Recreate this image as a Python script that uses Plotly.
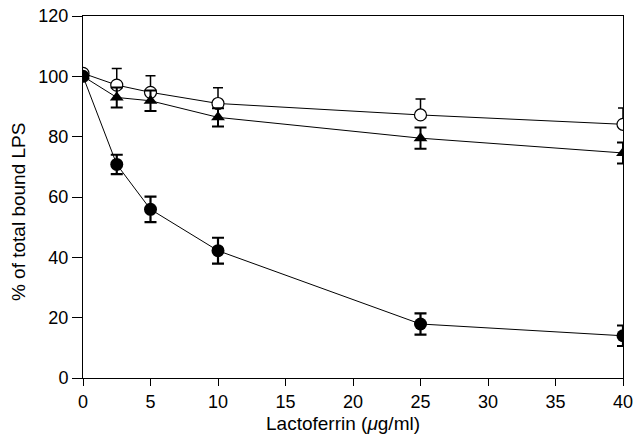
import plotly.graph_objects as go

x_vals = [0, 2.5, 5, 10, 25, 40]

open_circle = [101, 97.1, 94.7, 91.0, 87.2, 84.1]
open_circle_err = [0, 5.5, 5.5, 5.2, 5.3, 5.4]

triangle = [100, 93.0, 91.9, 86.4, 79.5, 74.6]
triangle_err = [0, 3.3, 3.4, 3.0, 3.5, 3.5]

filled_circle = [100, 70.8, 55.9, 42.2, 17.9, 14.0]
filled_circle_err = [0, 3.2, 4.2, 4.3, 3.5, 3.4]

x_ticks = [0, 5, 10, 15, 20, 25, 30, 35, 40]
y_ticks = [0, 20, 40, 60, 80, 100, 120]

x_title = "Lactoferrin (<i>μ</i>g/ml)"
y_title = "% of total bound LPS"

FONT = "Liberation Sans, Arial, sans-serif"

fig = go.Figure()

fig.add_trace(go.Scatter(
    x=x_vals, y=open_circle, mode="lines+markers",
    line=dict(color="black", width=1),
    marker=dict(symbol="circle", size=12, color="white", line=dict(color="black", width=1.2)),
    error_y=dict(type="data", array=open_circle_err, arrayminus=[0]*6, symmetric=False,
                 color="black", thickness=1.5, width=5),
    showlegend=False,
))

fig.add_trace(go.Scatter(
    x=x_vals, y=triangle, mode="lines+markers",
    line=dict(color="black", width=1),
    marker=dict(symbol="triangle-up", size=12, color="black"),
    error_y=dict(type="data", array=triangle_err, color="black", thickness=2, width=6),
    showlegend=False,
))

fig.add_trace(go.Scatter(
    x=x_vals, y=filled_circle, mode="lines+markers",
    line=dict(color="black", width=1),
    marker=dict(symbol="circle", size=13, color="black"),
    error_y=dict(type="data", array=filled_circle_err, color="black", thickness=2.2, width=6),
    showlegend=False,
))

fig.update_layout(
    width=634, height=436,
    margin=dict(l=83, r=11, t=16, b=58),
    paper_bgcolor="white", plot_bgcolor="white",
    font=dict(family=FONT, size=18, color="black"),
    xaxis=dict(
        range=[0, 40], tickvals=x_ticks, ticks="outside", ticklen=7, tickwidth=1,
        tickcolor="black", showline=True, linecolor="black", linewidth=1, mirror=True,
        showgrid=False, zeroline=False, tickfont=dict(size=18), automargin=False,
    ),
    yaxis=dict(
        range=[0, 120], tickvals=y_ticks, ticks="outside", ticklen=10, tickwidth=1,
        tickcolor="black", showline=True, linecolor="black", linewidth=1, mirror=True,
        showgrid=False, zeroline=False, tickfont=dict(size=18), automargin=False,
    ),
    annotations=[
        dict(text=x_title, xref="paper", yref="paper", x=0.4815, y=-0.127,
             xanchor="center", yanchor="middle", showarrow=False, font=dict(size=19)),
        dict(text=y_title, xref="paper", yref="paper", x=-0.1204, y=0.461,
             xanchor="center", yanchor="middle", textangle=-90, showarrow=False,
             font=dict(size=19)),
    ],
)

fig.write_html(
    "out.html",
    config={"displayModeBar": False},
    post_script="document.body.style.margin='0px';document.body.style.overflow='hidden';",
)
